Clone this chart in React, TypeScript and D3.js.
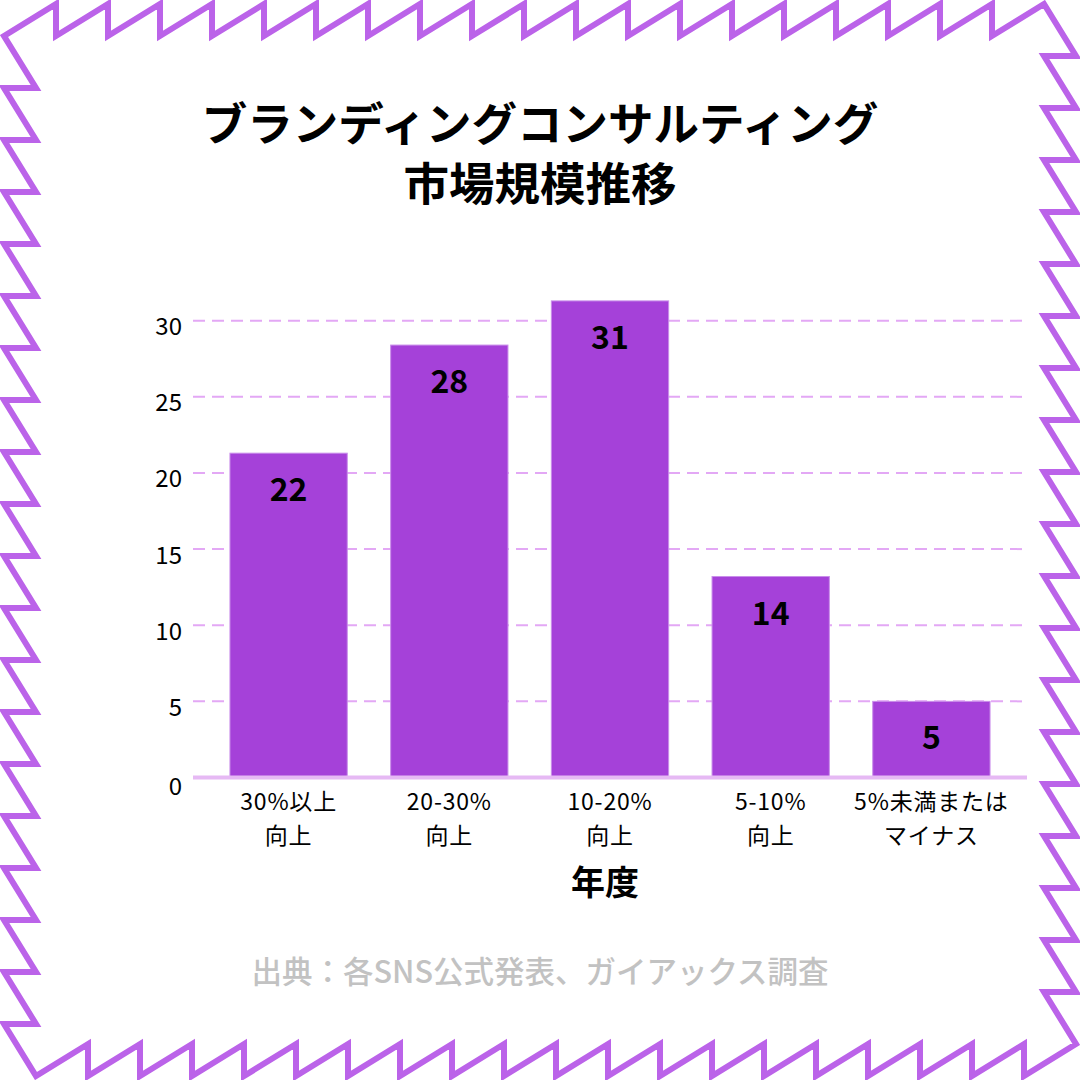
import React from "react";
import * as d3 from "d3";

const categoryLine1 = ["30%以上", "20-30%", "10-20%", "5-10%", "5%未満または"];
const categoryLine2 = ["向上", "向上", "向上", "向上", "マイナス"];
const barValues = [21.3, 28.4, 31.3, 13.2, 5.0];
const valueLabels = ["22", "28", "31", "14", "5"];
const yTicks = [0, 5, 10, 15, 20, 25, 30];
const titleLines = ["ブランディングコンサルティング", "市場規模推移"];
const xAxisTitle = "年度";
const sourceText = "出典：各SNS公式発表、ガイアックス調査";

const W = 1080;
const H = 1080;
const FONT = "'Noto Sans CJK JP', 'Noto Sans', sans-serif";
const BAR = "#A541D9";
const GRID = "#E3A8F5";
const BORDER = "#BB63E9";

function zigzagPath(): string {
  const O = 4;
  const I = 36;
  const n = 20;
  const oR = W - O;
  const iR = W - I;
  const step = (iR - O) / n;
  const pts: [number, number][] = [[O, I]];
  for (let i = 1; i <= n; i++) {
    const x = O + step * i;
    pts.push([x, O]);
    if (i < n) pts.push([x, I]);
  }
  for (let i = 1; i <= n; i++) {
    const y = O + step * i;
    pts.push([oR, y]);
    if (i < n) pts.push([iR, y]);
  }
  for (let i = 1; i <= n; i++) {
    const x = oR - step * i;
    pts.push([x, oR]);
    if (i < n) pts.push([x, iR]);
  }
  for (let i = 1; i <= n; i++) {
    const y = oR - step * i;
    pts.push([O, y]);
    if (i < n) pts.push([I, y]);
  }
  return (d3.line()(pts) as string) + "Z";
}

export default function App() {
  const idx = categoryLine1.map((_, i) => String(i));
  const x = d3
    .scaleBand<string>()
    .domain(idx)
    .range([193, 1027])
    .paddingInner(0.27)
    .paddingOuter(0.23);
  const y = d3.scaleLinear().domain([0, 30]).range([777.5, 320.7]);
  const [gx0, gx1] = x.range();

  return (
    <svg
      width={W}
      height={H}
      viewBox={`0 0 ${W} ${H}`}
      style={{ position: "absolute", left: 0, top: 0, background: "#fff" }}
      fontFamily={FONT}
    >
      <rect x={0} y={0} width={W} height={H} fill="#fff" />
      <path d={zigzagPath()} fill="none" stroke={BORDER} strokeWidth={6} strokeLinejoin="miter" />

      {titleLines.map((t, i) => (
        <text
          key={t}
          x={540}
          y={121 + i * 60}
          textAnchor="middle"
          dominantBaseline="central"
          fontSize={45.5}
          fontWeight={700}
          fill="#000"
        >
          {t}
        </text>
      ))}

      {yTicks
        .filter((t) => t > 0)
        .map((t) => (
          <line
            key={"g" + t}
            x1={gx0}
            x2={gx1}
            y1={y(t)}
            y2={y(t)}
            stroke={GRID}
            strokeWidth={2}
            strokeDasharray="12 7"
          />
        ))}

      {barValues.map((v, i) => (
        <rect
          key={"b" + i}
          x={x(String(i))}
          y={y(v)}
          width={x.bandwidth()}
          height={y(0) - y(v)}
          fill={BAR}
          stroke="#C98EEA"
          strokeWidth={1}
        />
      ))}

      <line x1={gx0} x2={gx1} y1={y(0)} y2={y(0)} stroke="#E6B9F4" strokeWidth={4} />

      {yTicks.map((t) => (
        <text
          key={"t" + t}
          x={182}
          y={y(t) + (t === 0 ? 7 : 4)}
          textAnchor="end"
          dominantBaseline="central"
          fontSize={24}
          fill="#000"
        >
          {t}
        </text>
      ))}

      {barValues.map((v, i) => (
        <text
          key={"v" + i}
          x={(x(String(i)) as number) + x.bandwidth() / 2}
          y={y(v) + 34}
          textAnchor="middle"
          dominantBaseline="central"
          fontSize={32}
          fontWeight={700}
          fill="#000"
        >
          {valueLabels[i]}
        </text>
      ))}

      {categoryLine1.map((c, i) => {
        const cx = (x(String(i)) as number) + x.bandwidth() / 2;
        return (
          <g key={"c" + i}>
            <text
              x={cx}
              y={800}
              textAnchor="middle"
              dominantBaseline="central"
              fontSize={23}
              letterSpacing={0.8}
              fill="#000"
            >
              {c}
            </text>
            <text
              x={cx}
              y={834}
              textAnchor="middle"
              dominantBaseline="central"
              fontSize={23}
              letterSpacing={0.8}
              fill="#000"
            >
              {categoryLine2[i]}
            </text>
          </g>
        );
      })}

      <text
        x={605}
        y={880}
        textAnchor="middle"
        dominantBaseline="central"
        fontSize={34}
        fontWeight={700}
        fill="#000"
      >
        {xAxisTitle}
      </text>

      <text
        x={540}
        y={970}
        textAnchor="middle"
        dominantBaseline="central"
        fontSize={30.5}
        fontWeight={500}
        fill="#C2C2C2"
      >
        {sourceText}
      </text>
    </svg>
  );
}
